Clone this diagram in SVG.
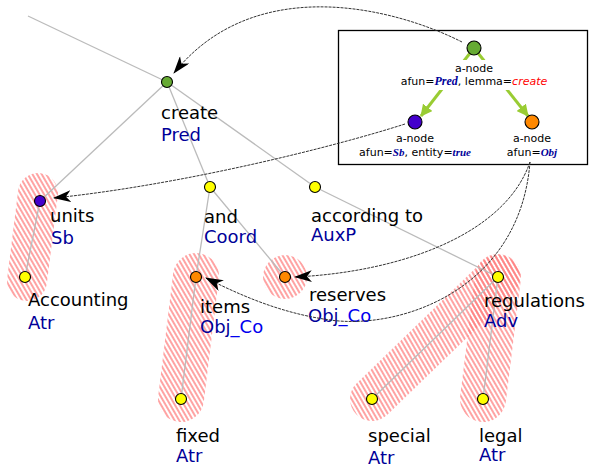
<svg xmlns="http://www.w3.org/2000/svg" width="590" height="468" viewBox="0 0 590 468">
<style>
.e{stroke:#bbbbbb;stroke-width:1.3;fill:none}
.h{stroke:url(#hatch);fill:none;stroke-linecap:round}
.n{stroke:#000;stroke-width:1.1}
.y{fill:#ffff00}.g{fill:#66aa33}.p{fill:#4400cc}.o{fill:#ff8800}
.w{font-family:"DejaVu Sans",sans-serif;font-size:18px;fill:#000}
.a{font-family:"DejaVu Sans",sans-serif;font-size:18px;fill:#000099}
.c{fill:#0000ee}
.bt{font-family:"DejaVu Sans",sans-serif;font-size:11px;fill:#000;text-anchor:middle}
.sv{font-family:"Liberation Serif",serif;font-weight:bold;font-style:italic;fill:#000099}
.rd{font-style:italic;fill:#ff0000}
.d{stroke:#333;stroke-width:1;stroke-dasharray:3,1;fill:none;marker-end:url(#ah)}
.ga{stroke:#99cc33;stroke-width:3;fill:none;marker-end:url(#gh)}
</style>
<defs>
<pattern id="hatch" patternUnits="userSpaceOnUse" width="4" height="4" patternTransform="rotate(-30)">
<line x1="1" y1="0" x2="1" y2="4" stroke="#ff7b7b" stroke-width="1.4"/>
</pattern>
<marker id="ah" markerUnits="userSpaceOnUse" markerWidth="18" markerHeight="12" viewBox="0 0 18 12" refX="17" refY="6" orient="auto">
<path d="M0,0 L18,6 L0,12 L5,6 z" fill="#000"/>
</marker>
<marker id="gh" markerUnits="userSpaceOnUse" markerWidth="12" markerHeight="12" viewBox="0 0 12 12" refX="11" refY="6" orient="auto">
<path d="M0,0 L12,6 L0,12 z" fill="#99cc33"/>
</marker>
</defs>
<rect width="590" height="468" fill="#fff"/>

<g id="highlights">
<line class="h" x1="38" y1="193" x2="27" y2="281" stroke-width="40"/>
<line class="h" x1="196" y1="276" x2="181" y2="399" stroke-width="46"/>
<circle cx="285" cy="277" r="22" fill="url(#hatch)"/>
<line class="h" x1="498" y1="277" x2="372" y2="399" stroke-width="44"/>
<line class="h" x1="498" y1="277" x2="483" y2="399" stroke-width="46"/>
</g>

<g id="edges">
<line class="e" x1="28" y1="16" x2="167" y2="82"/>
<line class="e" x1="167" y1="82" x2="40" y2="201"/>
<line class="e" x1="167" y1="82" x2="210" y2="187"/>
<line class="e" x1="167" y1="82" x2="315" y2="187"/>
<line class="e" x1="315" y1="187" x2="498" y2="277"/>
<line class="e" x1="40" y1="201" x2="25" y2="277"/>
<line class="e" x1="210" y1="187" x2="196" y2="277"/>
<line class="e" x1="210" y1="187" x2="285" y2="277"/>
<line class="e" x1="196" y1="277" x2="181" y2="399"/>
<line class="e" x1="498" y1="277" x2="372" y2="399"/>
<line class="e" x1="498" y1="277" x2="483" y2="399"/>
</g>

<g id="node-create"><circle class="n g" cx="167" cy="82" r="5.5"/><text class="w" x="161" y="119">create</text><text class="a" x="161" y="141">Pred</text></g>
<g id="node-units"><circle class="n p" cx="40" cy="201" r="5.5"/><text class="w" x="50" y="222">units</text><text class="a" x="51" y="244">Sb</text></g>
<g id="node-accounting"><circle class="n y" cx="25" cy="277" r="5.5"/><text class="w" x="28" y="306">Accounting</text><text class="a" x="28" y="329">Atr</text></g>
<g id="node-and"><circle class="n y" cx="210" cy="187" r="5.5"/><text class="w" x="204" y="223">and</text><text class="a" x="204" y="243">Coord</text></g>
<g id="node-according"><circle class="n y" cx="315" cy="187" r="5.5"/><text class="w" x="311" y="222">according to</text><text class="a" x="311" y="241">AuxP</text></g>
<g id="node-items"><circle class="n o" cx="196" cy="277" r="5.5"/><text class="w" x="200" y="313">items</text><text class="a" x="200" y="333">Obj<tspan class="c">_Co</tspan></text></g>
<g id="node-reserves"><circle class="n o" cx="285" cy="277" r="5.5"/><text class="w" x="309" y="301">reserves</text><text class="a" x="308" y="322">Obj<tspan class="c">_Co</tspan></text></g>
<g id="node-regulations"><circle class="n y" cx="498" cy="277" r="5.5"/><text class="w" x="484" y="307">regulations</text><text class="a" x="484" y="327">Adv</text></g>
<g id="node-fixed"><circle class="n y" cx="181" cy="399" r="5.5"/><text class="w" x="176" y="442">fixed</text><text class="a" x="176" y="462">Atr</text></g>
<g id="node-special"><circle class="n y" cx="372" cy="399" r="5.5"/><text class="w" x="368" y="442">special</text><text class="a" x="368" y="464">Atr</text></g>
<g id="node-legal"><circle class="n y" cx="483" cy="399" r="5.5"/><text class="w" x="479" y="442">legal</text><text class="a" x="479" y="461">Atr</text></g>

<g id="legend-box">
<rect x="338.5" y="30.5" width="249" height="134" fill="#fff" stroke="#000" stroke-width="1.3"/>
<line class="ga" x1="474" y1="48" x2="421" y2="116"/>
<line class="ga" x1="474" y1="48" x2="528" y2="116"/>
<rect x="398" y="60" width="152" height="30" fill="#fff"/>
<g id="box-node-pred"><circle class="n g" cx="474" cy="48" r="7"/>
<text class="bt" x="474" y="72">a-node</text>
<text class="bt" x="474" y="85">afun=<tspan class="sv" font-size="12">Pred</tspan>, lemma=<tspan class="rd">create</tspan></text></g>
<g id="box-node-sb"><circle class="n p" cx="415" cy="122" r="7"/>
<text class="bt" x="415" y="142">a-node</text>
<text class="bt" x="415" y="156">afun=<tspan class="sv" font-size="11">Sb</tspan>, entity=<tspan class="sv" font-size="11">true</tspan></text></g>
<g id="box-node-obj"><circle class="n o" cx="532" cy="122" r="7"/>
<text class="bt" x="532" y="142">a-node</text>
<text class="bt" x="532" y="156">afun=<tspan class="sv" font-size="11">Obj</tspan></text></g>
</g>

<g id="connectors">
<path class="d" d="M462,42 C395,8 255,-28 174,73"/>
<path class="d" d="M405,124 C330,148 180,185 54,198"/>
<path class="d" d="M530,162 C505,235 400,272 295,277"/>
<path class="d" d="M530,162 C520,290 400,330 330,320 C280,313 240,295 206,278"/>
</g>
</svg>
